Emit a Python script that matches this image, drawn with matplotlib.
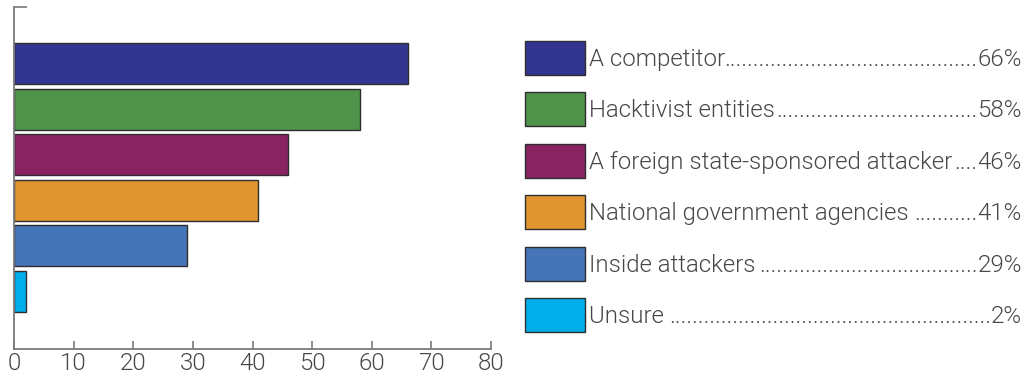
import matplotlib
matplotlib.use("Agg")
import matplotlib.pyplot as plt
from matplotlib.patches import Rectangle

plt.rcParams['font.family'] = ['Roboto', 'DejaVu Sans']

labels = ["A competitor", "Hacktivist entities", "A foreign state-sponsored attacker",
          "National government agencies ", "Inside attackers ", "Unsure "]
values = [66, 58, 46, 41, 29, 2]
colors = ["#333690", "#4f9249", "#8a2361", "#e0952f", "#4575b8", "#00aeea"]
xticks = [0, 10, 20, 30, 40, 50, 60, 70, 80]

W, H = 1028, 380
FS = 17.3
WT = 300
TXT = "#474747"
fig = plt.figure(figsize=(W / 100, H / 100), dpi=100)

# bar chart on the left
ax = fig.add_axes([14 / W, 1 - 349 / H, 477 / W, 342 / H])
pos = list(range(len(values)))
ax.barh(pos, values, height=0.9, color=colors, edgecolor="#2e2e2e", linewidth=1)
ax.set_xlim(0, 80)
ax.set_ylim(6.26, -1.24)
ax.set_xticks(xticks)
ax.set_yticks([-1.24])
ax.set_yticklabels([])
for s in ["top", "right"]:
    ax.spines[s].set_visible(False)
for s in ["left", "bottom"]:
    ax.spines[s].set_color("#7a7a7a")
    ax.spines[s].set_linewidth(1.3)
ax.tick_params(axis="x", direction="in", length=6, width=1.2, color="#7a7a7a",
               labelsize=FS, labelcolor=TXT, pad=2)
ax.tick_params(axis="y", direction="in", length=9, width=1.2, color="#7a7a7a")
for t in ax.get_xticklabels():
    t.set_fontweight(WT)

# legend with dot leaders on the right
renderer = fig.canvas.get_renderer()
x_box, w_box, h_box = 525, 60, 34
x_txt, x_end = 589, 1022
top0, pitch = 41, 51.4
dot = fig.text(0, 0, ".", fontsize=FS, fontweight=WT)
dw = dot.get_window_extent(renderer).width
dot.remove()
for i, (lab, v, c) in enumerate(zip(labels, values, colors)):
    top = top0 + i * pitch
    fig.patches.append(Rectangle((x_box / W, 1 - (top + h_box) / H), w_box / W, h_box / H,
                                 transform=fig.transFigure, facecolor=c,
                                 edgecolor="#2e2e2e", linewidth=1))
    yb = 1 - (top + h_box / 2 + 8) / H
    t1 = fig.text(x_txt / W, yb, lab, fontsize=FS, fontweight=WT,
                  color=TXT, va="baseline", ha="left")
    t2 = fig.text(x_end / W, yb, f"{v}%", fontsize=FS, fontweight=WT,
                  color=TXT, va="baseline", ha="right")
    b1 = t1.get_window_extent(renderer)
    b2 = t2.get_window_extent(renderer)
    n = int(round((b2.x0 - b1.x1) / dw))
    fig.text(b2.x0 / W, yb, "." * n, fontsize=FS, fontweight=WT,
             color=TXT, va="baseline", ha="right")

fig.savefig("out.png", dpi=100)
